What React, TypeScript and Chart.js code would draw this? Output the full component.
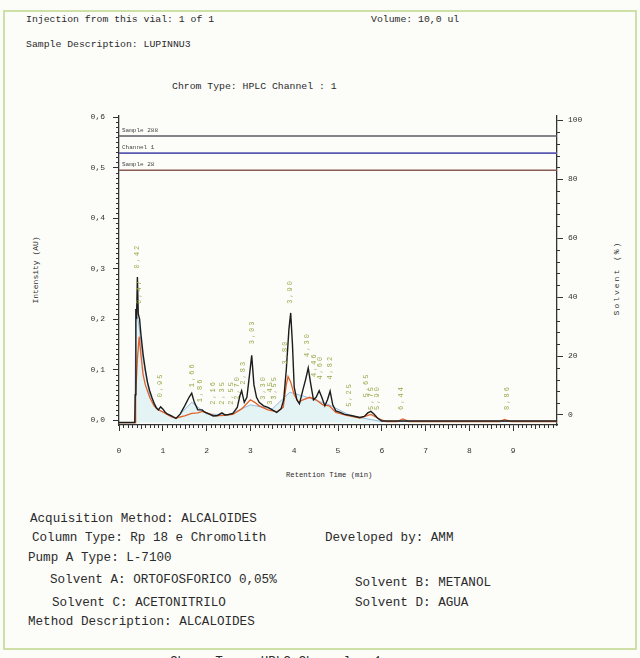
import React, { useEffect, useRef } from 'react';
import { Chart, registerables } from 'chart.js';
Chart.register(...registerables);

// ---- Data ----
const blackTimes = [0, 0.36, 0.37, 0.385, 0.40, 0.42, 0.44, 0.47, 0.50, 0.55, 0.60, 0.65, 0.70, 0.75, 0.80, 0.85, 0.90, 0.95, 1.00, 1.05, 1.10, 1.20, 1.30, 1.40, 1.50, 1.60, 1.66, 1.72, 1.80, 1.90, 1.95, 2.05, 2.15, 2.25, 2.35, 2.42, 2.50, 2.60, 2.70, 2.76, 2.80, 2.86, 2.92, 2.98, 3.03, 3.08, 3.14, 3.20, 3.30, 3.40, 3.50, 3.60, 3.70, 3.76, 3.82, 3.88, 3.92, 3.96, 4.00, 4.06, 4.12, 4.20, 4.26, 4.32, 4.38, 4.44, 4.50, 4.57, 4.63, 4.70, 4.76, 4.82, 4.88, 4.95, 5.05, 5.15, 5.30, 5.40, 5.50, 5.60, 5.68, 5.75, 5.82, 5.90, 6.00, 6.20, 7.00, 10.0];
const blackValues = [-0.005, -0.005, 0.05, 0.22, 0.20, 0.283, 0.21, 0.20, 0.17, 0.13, 0.10, 0.075, 0.058, 0.045, 0.033, 0.024, 0.020, 0.026, 0.022, 0.016, 0.012, 0.008, 0.003, 0.012, 0.028, 0.045, 0.053, 0.035, 0.020, 0.020, 0.016, 0.012, 0.008, 0.009, 0.014, 0.010, 0.011, 0.013, 0.025, 0.048, 0.058, 0.035, 0.045, 0.090, 0.128, 0.070, 0.045, 0.035, 0.028, 0.025, 0.020, 0.015, 0.022, 0.040, 0.100, 0.180, 0.212, 0.150, 0.065, 0.040, 0.032, 0.060, 0.080, 0.103, 0.070, 0.040, 0.045, 0.058, 0.045, 0.028, 0.040, 0.057, 0.030, 0.018, 0.015, 0.011, 0.009, 0.007, 0.005, 0.007, 0.014, 0.017, 0.012, 0.004, -0.002, -0.002, -0.002, -0.002];

const orangeTimes = [0, 0.37, 0.38, 0.42, 0.46, 0.50, 0.55, 0.60, 0.70, 0.80, 0.90, 1.00, 1.10, 1.20, 1.30, 1.50, 1.66, 1.80, 1.90, 2.00, 2.20, 2.40, 2.60, 2.80, 3.00, 3.10, 3.20, 3.40, 3.60, 3.75, 3.82, 3.86, 3.92, 4.00, 4.10, 4.20, 4.35, 4.50, 4.65, 4.80, 4.95, 5.20, 5.50, 5.75, 5.95, 6.10, 6.35, 6.48, 6.62, 8.70, 8.80, 8.95, 10];
const orangeValues = [-0.005, -0.005, 0.05, 0.12, 0.165, 0.13, 0.09, 0.07, 0.045, 0.028, 0.020, 0.016, 0.011, 0.006, 0.004, 0.008, 0.013, 0.014, 0.017, 0.014, 0.008, 0.009, 0.011, 0.022, 0.040, 0.035, 0.028, 0.020, 0.016, 0.025, 0.070, 0.086, 0.075, 0.050, 0.035, 0.040, 0.045, 0.040, 0.030, 0.028, 0.015, 0.009, 0.004, 0.011, 0.002, -0.003, -0.003, 0.002, -0.003, -0.003, 0.001, -0.003, -0.003];

const cyanTimes = [0, 0.36, 0.385, 0.45, 0.55, 0.70, 0.90, 1.30, 1.66, 2.00, 2.50, 3.00, 3.50, 3.90, 4.30, 4.80, 5.30, 6.00, 10];
const cyanValues = [-0.005, -0.005, 0.22, 0.19, 0.12, 0.05, 0.02, 0.003, 0.035, 0.012, 0.010, 0.030, 0.022, 0.055, 0.045, 0.030, 0.008, -0.003, -0.003];

const peakTimes = [0.42, 0.47, 0.95, 1.66, 1.86, 2.16, 2.35, 2.55, 2.70, 2.83, 3.03, 3.30, 3.45, 3.55, 3.80, 3.90, 4.30, 4.46, 4.60, 4.82, 5.25, 5.65, 5.75, 5.90, 6.44, 8.86];
const peakLabelBase = [0.30, 0.23, 0.045, 0.065, 0.035, 0.03, 0.03, 0.03, 0.04, 0.07, 0.15, 0.04, 0.03, 0.04, 0.11, 0.23, 0.125, 0.085, 0.08, 0.08, 0.026, 0.045, 0.02, 0.02, 0.02, 0.02];

const gradientNames = ['Sample 288', 'Channel 1', 'Sample 28'];
const gradientLevels = [94.6, 88.8, 83.0];
const gradientColors = ['#5e5e66', '#5a5ab0', '#8a5a55'];

const xTicks = [0, 1, 2, 3, 4, 5, 6, 7, 8, 9];
const yTicks = [0, 0.1, 0.2, 0.3, 0.4, 0.5, 0.6];
const y2Ticks = [0, 20, 40, 60, 80, 100];

const MONO = '"Liberation Mono", "DejaVu Sans Mono", monospace';

const extrasPlugin = {
  id: 'extras',
  afterDraw(chart: any) {
    const { ctx, chartArea, scales } = chart;
    const x = scales.x, y = scales.y, y2 = scales.y2;
    ctx.save();
    ctx.strokeStyle = '#333';
    ctx.lineWidth = 1;
    for (let i = 0; i <= 100; i++) {
      if (i % 10 === 0) continue;
      const px = Math.round(x.getPixelForValue(i / 10)) + 0.5;
      const len = i % 5 === 0 ? 4 : 3;
      ctx.beginPath();
      ctx.moveTo(px, chartArea.bottom);
      ctx.lineTo(px, chartArea.bottom + len);
      ctx.stroke();
    }
    for (let i = 0; i <= 60; i++) {
      if (i % 10 === 0) continue;
      const py = Math.round(y.getPixelForValue(i / 100)) + 0.5;
      ctx.beginPath();
      ctx.moveTo(chartArea.left - 3, py);
      ctx.lineTo(chartArea.left, py);
      ctx.stroke();
    }
    for (let i = 0; i <= 100; i += 4) {
      if (i % 20 === 0) continue;
      const py = Math.round(y2.getPixelForValue(i)) + 0.5;
      ctx.beginPath();
      ctx.moveTo(chartArea.right, py);
      ctx.lineTo(chartArea.right + 3, py);
      ctx.stroke();
    }
    ctx.fillStyle = '#444';
    ctx.font = `6px ${MONO}`;
    ctx.textAlign = 'left';
    ctx.textBaseline = 'bottom';
    gradientNames.forEach((n, i) => {
      ctx.fillText(n, chartArea.left + 3, y2.getPixelForValue(gradientLevels[i]) - 3);
    });
    ctx.fillStyle = '#96a94a';
    ctx.font = `7px ${MONO}`;
    (ctx as any).letterSpacing = '2px';
    ctx.textBaseline = 'middle';
    peakTimes.forEach((t, i) => {
      const px = x.getPixelForValue(t);
      const py = y.getPixelForValue(peakLabelBase[i]);
      ctx.save();
      ctx.translate(px, py);
      ctx.rotate(-Math.PI / 2);
      ctx.fillText(t.toFixed(2).replace('.', ','), 0, 0);
      ctx.restore();
    });
    ctx.restore();
  },
};

function ChromChart() {
  const ref = useRef<HTMLCanvasElement>(null);
  useEffect(() => {
    if (!ref.current) return;
    const pts = (ts: number[], vs: number[]) => ts.map((t, i) => ({ x: t, y: vs[i] }));
    const datasets: any[] = [
      { data: pts(blackTimes, blackValues), borderColor: '#1c1c1c', borderWidth: 1.4, pointRadius: 0, yAxisID: 'y' },
      { data: pts(orangeTimes, orangeValues), borderColor: '#e2612a', borderWidth: 1.3, pointRadius: 0, yAxisID: 'y' },
      { data: pts(cyanTimes, cyanValues), borderColor: 'rgba(110,160,215,0.7)', borderWidth: 1, pointRadius: 0, yAxisID: 'y', fill: { value: -0.005 }, backgroundColor: 'rgba(200,236,240,0.45)' },
    ];
    gradientLevels.forEach((lv, i) => {
      datasets.push({ data: [{ x: 0, y: lv }, { x: 10, y: lv }], borderColor: gradientColors[i], borderWidth: 1.6, pointRadius: 0, yAxisID: 'y2' });
    });
    const tickFont = { family: MONO, size: 8 };
    const chart = new Chart(ref.current, {
      type: 'line',
      data: { datasets },
      plugins: [extrasPlugin],
      options: {
        animation: false,
        responsive: false,
        layout: { padding: { top: 16, left: 0, right: 0, bottom: 0 } },
        plugins: { legend: { display: false }, tooltip: { enabled: false } },
        scales: {
          x: {
            type: 'linear', min: 0, max: 10, position: 'bottom',
            afterFit: (s: any) => { s.height = 75; },
            afterBuildTicks: (s: any) => { s.ticks = xTicks.map((v) => ({ value: v })); },
            ticks: { font: tickFont, color: '#333', padding: 15, maxRotation: 0, callback: (v: any) => String(v) },
            grid: { drawOnChartArea: false, tickLength: 6, color: '#333' },
            border: { color: '#333', width: 1.3 },
          },
          y: {
            type: 'linear', min: -0.0099, max: 0.602, position: 'left',
            afterFit: (s: any) => { s.width = 119; },
            afterBuildTicks: (s: any) => { s.ticks = yTicks.map((v) => ({ value: v })); },
            ticks: { font: tickFont, color: '#333', padding: 8, callback: (v: any) => Number(v).toFixed(1).replace('.', ',') },
            grid: { drawOnChartArea: false, tickLength: 6, color: '#333' },
            border: { color: '#333', width: 1.3 },
          },
          y2: {
            type: 'linear', min: -3.4, max: 101.4, position: 'right',
            afterFit: (s: any) => { s.width = 83; },
            afterBuildTicks: (s: any) => { s.ticks = y2Ticks.map((v) => ({ value: v })); },
            ticks: { font: tickFont, color: '#333', padding: 5, callback: (v: any) => String(v) },
            grid: { drawOnChartArea: false, tickLength: 6, color: '#333' },
            border: { color: '#333', width: 1.3 },
          },
        },
      } as any,
    });
    return () => chart.destroy();
  }, []);
  return <canvas ref={ref} width={640} height={400} style={{ position: 'absolute', left: 0, top: 100, width: 640, height: 400 }} />;
}

type T = { text: string; x: number; cy: number; size: number };
const texts: T[] = [
  { text: 'Injection from this vial: 1 of 1', x: 26, cy: 20, size: 9.8 },
  { text: 'Volume: 10,0 ul', x: 371, cy: 20, size: 9.8 },
  { text: 'Sample Description: LUPINNU3', x: 26, cy: 45, size: 9.8 },
  { text: 'Chrom Type: HPLC Channel : 1', x: 172, cy: 87, size: 9.8 },
  { text: 'Acquisition Method: ALCALOIDES', x: 30, cy: 519, size: 12.6 },
  { text: 'Column Type: Rp 18 e Chromolith', x: 32, cy: 538, size: 12.6 },
  { text: 'Developed by: AMM', x: 325, cy: 538, size: 12.6 },
  { text: 'Pump A Type: L-7100', x: 28, cy: 558, size: 12.6 },
  { text: 'Solvent A: ORTOFOSFORICO 0,05%', x: 50, cy: 580, size: 12.6 },
  { text: 'Solvent B: METANOL', x: 355, cy: 583, size: 12.6 },
  { text: 'Solvent C: ACETONITRILO', x: 52, cy: 603, size: 12.6 },
  { text: 'Solvent D: AGUA', x: 355, cy: 603, size: 12.6 },
  { text: 'Method Description: ALCALOIDES', x: 28, cy: 622, size: 12.6 },
  { text: 'Chrom Type: HPLC Channel : 1', x: 170, cy: 662, size: 12.6 },
  { text: 'Retention Time (min)', x: 286, cy: 476, size: 7.2 },
];

export default function App() {
  return (
    <div style={{ position: 'absolute', left: 0, top: 0, width: 640, height: 658, overflow: 'hidden', background: '#fcfcf9', fontFamily: MONO, color: '#2b2b2b' }}>
      <div style={{ position: 'absolute', left: 3, top: 10, width: 630, height: 636, border: '2px solid #cfe0a6' }} />
      {texts.map((t, i) => (
        <div key={i} style={{ position: 'absolute', left: t.x, top: t.cy - t.size / 2, fontSize: t.size, lineHeight: `${t.size}px`, whiteSpace: 'pre' }}>{t.text}</div>
      ))}
      <div style={{ position: 'absolute', left: 36, top: 270, fontSize: 8, lineHeight: '8px', whiteSpace: 'pre', transform: 'translate(-50%, -50%) rotate(-90deg)' }}>Intensity (AU)</div>
      <div style={{ position: 'absolute', left: 617, top: 278, fontSize: 8, lineHeight: '8px', letterSpacing: 2, whiteSpace: 'pre', transform: 'translate(-50%, -50%) rotate(-90deg)' }}>Solvent (%)</div>
      <ChromChart />
    </div>
  );
}
